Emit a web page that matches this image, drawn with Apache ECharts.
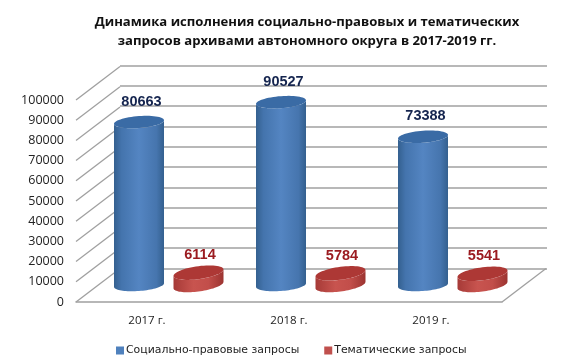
<!DOCTYPE html>
<html><head><meta charset="utf-8">
<style>html,body{margin:0;padding:0;background:#fff}#c{width:573px;height:364px}</style>
<script src="https://cdn.jsdelivr.net/npm/echarts@6/dist/echarts.min.js"></script>
</head><body><div id="c"></div>
<script>
const categories = ['2017 г.', '2018 г.', '2019 г.'];
const socialRequests = [80663, 90527, 73388];
const thematicRequests = [6114, 5784, 5541];
const yTicks = [0, 10000, 20000, 30000, 40000, 50000, 60000, 70000, 80000, 90000, 100000];
const titleText = 'Динамика исполнения социально-правовых и тематических\nзапросов архивами автономного округа в 2017-2019 гг.';
const seriesNames = ['Социально-правовые запросы', 'Тематические запросы'];

const depthX = 44, depthY = -33.5;   // full depth of the 3D box
const midX = 22, midY = -17;         // plane of the cylinders
const rx = 25;

const chart = echarts.init(document.getElementById('c'), null, {renderer: 'canvas'});

function ellipsePts(cx, cy, a, b, s, from, to, n) {
  const pts = [];
  for (let i = 0; i <= n; i++) {
    const t = from + (to - from) * i / n;
    pts.push([cx + a * Math.cos(t), cy + b * Math.sin(t) - s * Math.cos(t)]);
  }
  return pts;
}

function cylinder(style) {
  return function (params, api) {
    const i = api.value(0), v = api.value(1);
    const top = api.coord([i, v]), bot = api.coord([i, 0]);
    const cx = top[0] + midX + style.dx;
    const ty = top[1] + midY, by = bot[1] + midY;
    const front = ellipsePts(cx, by, rx, style.b, style.s, 0, Math.PI, 40);
    const back = ellipsePts(cx, ty, rx, style.b, style.s, Math.PI, 0, 40);
    const body = back.concat(front);
    return {
      type: 'group',
      children: [
        {type: 'polygon', shape: {points: body}, style: {
          fill: new echarts.graphic.LinearGradient(0, 0, 1, 0, style.stops)}},
        {type: 'polygon', shape: {points: ellipsePts(cx, ty, rx, style.b, style.s, 0, Math.PI * 2, 60)},
          style: {fill: style.top}},
        {type: 'text', x: cx + style.lx, y: ty + style.ly, style: {
          text: String(v), fill: style.label, font: 'bold 14.5px "Liberation Sans"',
          textAlign: 'center', textVerticalAlign: 'middle'}}
      ]
    };
  };
}

const blue = {dx: -30, b: 6, s: 1.8, lx: 2.5, ly: -20.5, top: '#3a6ba5', label: '#15254f',
  stops: [{offset: 0, color: '#34608f'}, {offset: 0.15, color: '#4474ad'}, {offset: 0.5, color: '#5485c2'}, {offset: 0.85, color: '#4675ae'}, {offset: 1, color: '#34608f'}]};
const red = {dx: 29.5, b: 6.5, s: 3.2, lx: 1.5, ly: -17.5, top: '#ad3835', label: '#9b1b20',
  stops: [{offset: 0, color: '#a63a37'}, {offset: 0.4, color: '#c8544f'}, {offset: 0.7, color: '#c24e4a'}, {offset: 1, color: '#9c3431'}]};

const lineColor = '#a0a0a0';

chart.setOption({
  animation: false,
  backgroundColor: '#fff',
  title: {
    text: titleText, left: 307, top: 13, padding: 0, textAlign: 'center',
    textStyle: {fontFamily: '"Open Sans"', fontWeight: 'bold', fontSize: 13.1, color: '#111', lineHeight: 19}
  },
  legend: {
    data: seriesNames, left: 116, top: 345, padding: 0, itemWidth: 8, itemHeight: 8, itemGap: 25, icon: 'rect',
    textStyle: {fontFamily: '"DejaVu Sans"', fontSize: 10.9, color: '#222', padding: [0, 0, 0, -3]}
  },
  grid: [
    {left: 76, width: 426, top: 100, height: 202},
    {left: 120, width: 427, top: 65.5, height: 203}
  ],
  xAxis: [
    {type: 'category', gridIndex: 0, data: categories, axisTick: {show: false},
      axisLine: {lineStyle: {color: lineColor, width: 1.5}},
      axisLabel: {margin: 13, fontFamily: '"Open Sans"', fontSize: 11.5, color: '#222'}},
    {type: 'category', gridIndex: 1, data: categories, show: false}
  ],
  yAxis: [
    {type: 'value', gridIndex: 0, min: 0, max: 100000, interval: 10000, splitLine: {show: false},
      axisLine: {show: false}, axisTick: {show: false},
      axisLabel: {margin: 12, fontFamily: '"Open Sans"', fontSize: 12.5, color: '#222', formatter: v => String(v)}},
    {type: 'value', gridIndex: 1, min: 0, max: 100000, interval: 10000,
      axisLine: {show: false}, axisTick: {show: false}, axisLabel: {show: false},
      splitLine: {show: true, lineStyle: {color: lineColor, width: 1.5}}}
  ],
  series: [
    {
      type: 'custom', name: 'walls', xAxisIndex: 0, yAxisIndex: 0, z: 1, silent: true, clip: false,
      data: yTicks.map(v => [0, v]),
      renderItem(params, api) {
        const p = api.coord([0, api.value(1)]);
        const band = api.size([1, 0])[0];
        const left = p[0] - band / 2;
        const seg = x => ({type: 'line', shape: {x1: x, y1: p[1], x2: x + depthX, y2: p[1] + depthY},
          style: {stroke: lineColor, lineWidth: 1.3}});
        const kids = [seg(left)];
        if (api.value(1) === 0) kids.push(seg(left + band * categories.length));
        return {type: 'group', children: kids};
      }
    },
    {type: 'custom', name: seriesNames[0], xAxisIndex: 0, yAxisIndex: 0, z: 3, clip: false,
      itemStyle: {color: '#4f81bd'}, data: socialRequests.map((v, i) => [i, v]), renderItem: cylinder(blue)},
    {type: 'custom', name: seriesNames[1], xAxisIndex: 0, yAxisIndex: 0, z: 3, clip: false,
      itemStyle: {color: '#c0504d'}, data: thematicRequests.map((v, i) => [i, v]), renderItem: cylinder(red)}
  ]
});
</script></body></html>
